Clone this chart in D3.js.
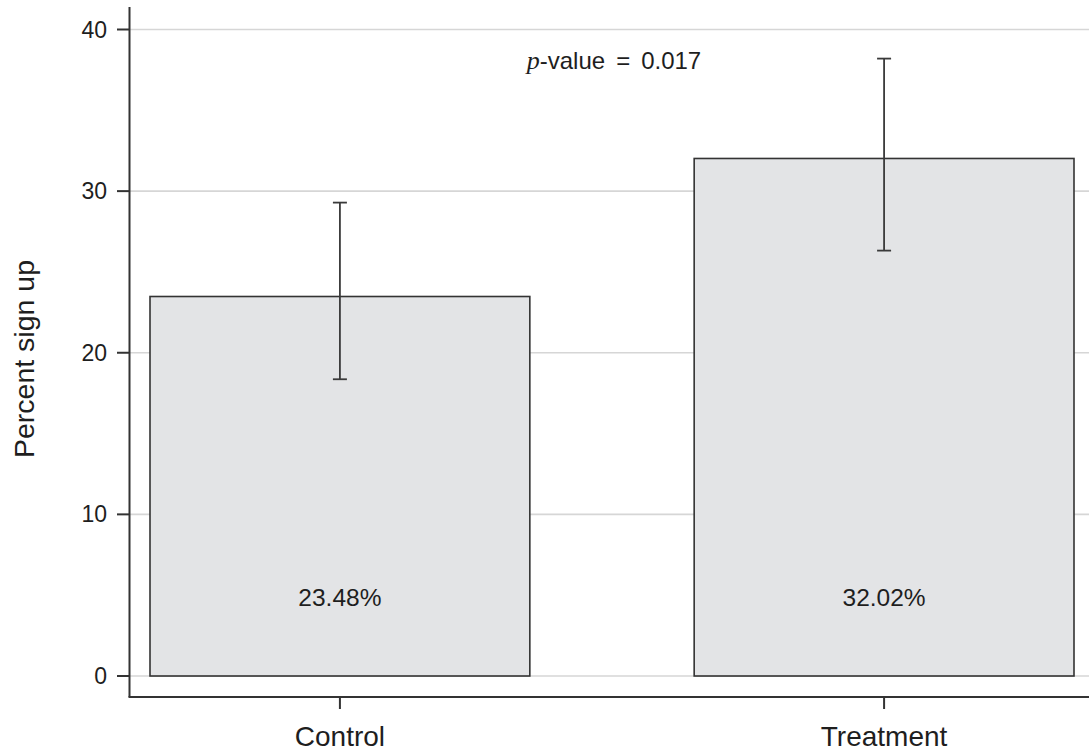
<!DOCTYPE html>
<html>
<head>
<meta charset="utf-8">
<script src="https://cdn.jsdelivr.net/npm/d3@7"></script>
<style>
  html, body { margin: 0; padding: 0; background: #fff; }
  svg { display: block; }
  text { font-family: "Liberation Sans", Arial, sans-serif; fill: #1e1e1e; }
</style>
</head>
<body>
<svg id="chart" width="1089" height="751"></svg>
<script>
// Sign-up rates by group, with 95% confidence intervals
const groups = ["Control", "Treatment"];
const percentSignUp = [23.48, 32.02];
const ciLow = [18.36, 26.32];
const ciHigh = [29.29, 38.2];
const valueLabels = ["23.48%", "32.02%"];
const yTicks = [0, 10, 20, 30, 40];
const pValue = "0.017";

const svg = d3.select("#chart");
const W = 1089, H = 751;

const axisX = 129.5;   // y-axis line position
const axisY = 697;     // x-axis line position

const y = d3.scaleLinear().domain([0, 40]).range([676, 29.5]);
const x = d3.scaleBand().domain(groups).range([150, 1074])
  .paddingInner(0.302).paddingOuter(0);

// horizontal gridlines
svg.append("g").selectAll("line").data(yTicks).join("line")
  .attr("x1", axisX).attr("x2", W)
  .attr("y1", d => y(d)).attr("y2", d => y(d))
  .attr("stroke", "#d6d6d6").attr("stroke-width", 1.6);

// bars
svg.append("g").selectAll("rect").data(groups).join("rect")
  .attr("x", d => x(d))
  .attr("y", (d, i) => y(percentSignUp[i]))
  .attr("width", x.bandwidth())
  .attr("height", (d, i) => y(0) - y(percentSignUp[i]))
  .attr("fill", "#e3e4e6")
  .attr("stroke", "#333").attr("stroke-width", 1.6);

// confidence interval whiskers
const eb = svg.append("g").attr("stroke", "#3a3a3a").attr("stroke-width", 1.8);
groups.forEach((g, i) => {
  const cx = x(g) + x.bandwidth() / 2;
  eb.append("line").attr("x1", cx).attr("x2", cx)
    .attr("y1", y(ciLow[i])).attr("y2", y(ciHigh[i]));
  [ciLow[i], ciHigh[i]].forEach(v => {
    eb.append("line").attr("x1", cx - 7).attr("x2", cx + 7)
      .attr("y1", y(v)).attr("y2", y(v));
  });
});

// value labels inside bars
svg.append("g").selectAll("text").data(groups).join("text")
  .attr("x", d => x(d) + x.bandwidth() / 2)
  .attr("y", 606)
  .attr("text-anchor", "middle")
  .style("font-size", "24.5px")
  .text((d, i) => valueLabels[i]);

// y axis
const yAxis = svg.append("g");
yAxis.append("line").attr("x1", axisX).attr("x2", axisX)
  .attr("y1", 7).attr("y2", axisY)
  .attr("stroke", "#333").attr("stroke-width", 2);
yAxis.selectAll("line.tick").data(yTicks).join("line").attr("class", "tick")
  .attr("x1", 117).attr("x2", axisX)
  .attr("y1", d => y(d)).attr("y2", d => y(d))
  .attr("stroke", "#333").attr("stroke-width", 2);
yAxis.selectAll("text").data(yTicks).join("text")
  .attr("x", 107).attr("y", d => y(d) + 8)
  .attr("text-anchor", "end")
  .style("font-size", "23px")
  .text(d => d);

// x axis
const xAxis = svg.append("g");
xAxis.append("line").attr("x1", axisX - 1).attr("x2", W)
  .attr("y1", axisY).attr("y2", axisY)
  .attr("stroke", "#333").attr("stroke-width", 2);
xAxis.selectAll("line.tick").data(groups).join("line").attr("class", "tick")
  .attr("x1", d => x(d) + x.bandwidth() / 2).attr("x2", d => x(d) + x.bandwidth() / 2)
  .attr("y1", axisY).attr("y2", 709)
  .attr("stroke", "#333").attr("stroke-width", 2);
xAxis.selectAll("text").data(groups).join("text")
  .attr("x", d => x(d) + x.bandwidth() / 2)
  .attr("y", 746)
  .attr("text-anchor", "middle")
  .style("font-size", "28px")
  .text(d => d);

// y axis title
svg.append("text")
  .attr("transform", "translate(34," + 359 + ") rotate(-90)")
  .attr("text-anchor", "middle")
  .style("font-size", "28.5px")
  .text("Percent sign up");

// significance annotation
const pText = svg.append("text")
  .attr("x", 614)
  .attr("y", 69)
  .attr("text-anchor", "middle")
  .style("font-size", "24px");
pText.append("tspan")
  .style("font-family", "'Liberation Serif', 'Times New Roman', serif")
  .style("font-style", "italic")
  .style("font-size", "26px")
  .text("p");
pText.append("tspan").text("-value");
pText.append("tspan").attr("dx", 11).text("=");
pText.append("tspan").attr("dx", 11).text(pValue);
</script>
</body>
</html>
